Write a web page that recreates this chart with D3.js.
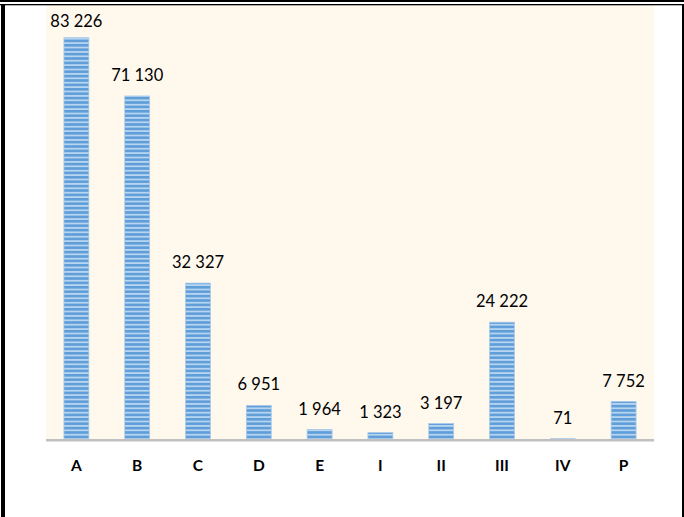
<!DOCTYPE html>
<meta charset="utf-8">
<head>
  <script type="text/javascript" src="https://d3js.org/d3.v7.min.js"></script>
</head>

<style type="text/css">
  body {
    margin: 0;
    background: #fff;
    font-family: Lato, "Open Sans", sans-serif;
  }
  .value { font-size: 16.5px; fill: #000; }
  .cat { font-size: 15.5px; font-weight: bold; fill: #000; }
</style>

<body>
</body>

<script type="text/javascript">

var categories = ["A", "B", "C", "D", "E", "I", "II", "III", "IV", "P"];
var values = [83226, 71130, 32327, 6951, 1964, 1323, 3197, 24222, 71, 7752];
var valueLabels = ["83 226", "71 130", "32 327", "6 951", "1 964", "1 323", "3 197", "24 222", "71", "7 752"];

var width = 684,
    height = 517;

var plot = {left: 46, right: 654, top: 5, bottom: 439};

var svg = d3.select("body").append("svg")
    .attr("width", width)
    .attr("height", height);

// stripy bar fill
var defs = svg.append("defs");
var pat = defs.append("pattern")
    .attr("id", "stripes")
    .attr("patternUnits", "userSpaceOnUse")
    .attr("width", 8)
    .attr("height", 4.4);
pat.append("rect").attr("width", 8).attr("height", 4.4).attr("fill", "#5f9ed8");
pat.append("rect").attr("y", 2.6).attr("width", 8).attr("height", 1.8).attr("fill", "#b7d5f1");

// plot area background
svg.append("rect")
    .attr("x", plot.left)
    .attr("y", plot.top)
    .attr("width", plot.right - plot.left)
    .attr("height", plot.bottom - plot.top)
    .attr("fill", "#fef8ed");

var x = d3.scaleBand()
    .domain(categories)
    .range([plot.left, plot.right])
    .paddingInner(0.59)
    .paddingOuter(0.295);

var y = d3.scaleLinear()
    .domain([0, 90000])
    .range([plot.bottom, plot.top]);

svg.append("g")
  .selectAll("rect")
    .data(values)
  .enter().append("rect")
    .attr("x", function(d, i) { return x(categories[i]); })
    .attr("y", function(d) { return y(d); })
    .attr("width", x.bandwidth())
    .attr("height", function(d) { return y(0) - y(d); })
    .attr("fill", "url(#stripes)")
    .attr("stroke", "#a8c9ea")
    .attr("stroke-width", 0.8);

svg.append("g")
  .selectAll("text")
    .data(values)
  .enter().append("text")
    .attr("class", "value")
    .attr("text-anchor", "middle")
    .attr("x", function(d, i) { return x(categories[i]) + x.bandwidth() / 2; })
    .attr("y", function(d) { return Math.max(y(d) - 15, 27); })
    .text(function(d, i) { return valueLabels[i]; });

// axis line
svg.append("line")
    .attr("x1", plot.left)
    .attr("x2", plot.right)
    .attr("y1", plot.bottom + 1.2)
    .attr("y2", plot.bottom + 1.2)
    .attr("stroke", "#c0c0c0")
    .attr("stroke-width", 2.6);

svg.append("g")
  .selectAll("text")
    .data(categories)
  .enter().append("text")
    .attr("class", "cat")
    .attr("text-anchor", "middle")
    .attr("x", function(d) { return x(d) + x.bandwidth() / 2; })
    .attr("y", 471)
    .text(function(d) { return d; });

// frame
svg.append("rect").attr("x", 0).attr("y", 0).attr("width", width).attr("height", 2).attr("fill", "#000");
svg.append("rect").attr("x", 0).attr("y", 4).attr("width", width).attr("height", 1.3).attr("fill", "#000");
svg.append("rect").attr("x", 1).attr("y", 4).attr("width", 4).attr("height", height - 4).attr("fill", "#000");
svg.append("rect").attr("x", 682).attr("y", 4).attr("width", 2).attr("height", height - 4).attr("fill", "#000");

</script>
</html>
